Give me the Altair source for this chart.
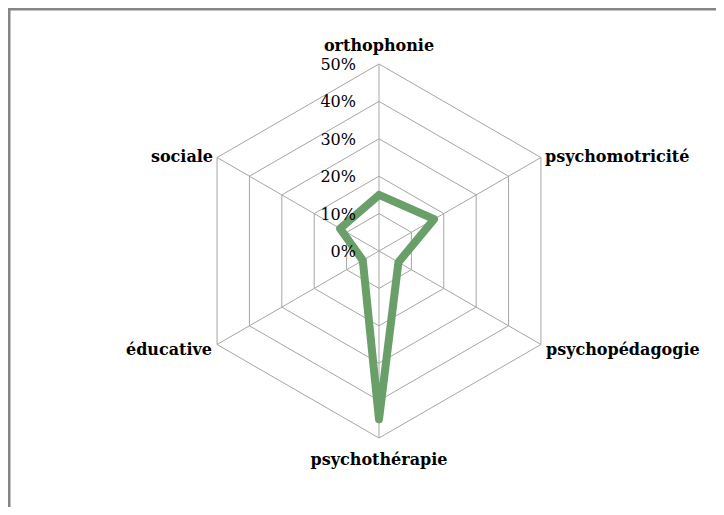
import altair as alt
import pandas as pd
import numpy as np

categories = ["orthophonie", "psychomotricité", "psychopédagogie",
              "psychothérapie", "éducative", "sociale"]
values = [15, 17, 6, 45, 5, 12]
ticks = [0, 10, 20, 30, 40, 50]
tick_labels = ["0%", "10%", "20%", "30%", "40%", "50%"]
max_r = 50

n = len(categories)
angles = [np.pi / 2 - 2 * np.pi * i / n for i in range(n)]

# layout (pixels of the view)
W, H = 708, 499
cx, cy = 371, 243
k = 187 / max_r
xdom = [-cx / k, (W - cx) / k]
ydom = [-(H - cy) / k, cy / k]

series = pd.DataFrame([
    {"order": i, "cat": categories[i % n],
     "x": values[i % n] * np.cos(angles[i % n]),
     "y": values[i % n] * np.sin(angles[i % n])}
    for i in range(n + 1)
])

rings = pd.DataFrame([
    {"ring": t, "order": i,
     "x": t * np.cos(angles[i % n]), "y": t * np.sin(angles[i % n])}
    for t in ticks if t > 0 for i in range(n + 1)
])

spokes = pd.DataFrame([
    {"x": 0.0, "y": 0.0,
     "x2": max_r * np.cos(a), "y2": max_r * np.sin(a)}
    for a in angles
])

labels = pd.DataFrame([
    {"cat": c, "x": max_r * np.cos(a), "y": max_r * np.sin(a), "pos": i}
    for i, (c, a) in enumerate(zip(categories, angles))
])

tick_df = pd.DataFrame({"x": [0.0] * len(ticks), "y": ticks, "label": tick_labels})

X = lambda f="x": alt.X(f"{f}:Q", scale=alt.Scale(domain=xdom, nice=False, zero=False), axis=None)
Y = lambda f="y": alt.Y(f"{f}:Q", scale=alt.Scale(domain=ydom, nice=False, zero=False), axis=None)

grid_color = "#a6a6a6"

ring_layer = alt.Chart(rings).mark_line(color=grid_color, strokeWidth=1).encode(
    x=X(), y=Y(), order="order:Q", detail="ring:N")

spoke_layer = alt.Chart(spokes).mark_rule(color=grid_color, strokeWidth=1).encode(
    x=X(), y=Y(), x2="x2:Q", y2="y2:Q")

line_layer = alt.Chart(series).mark_line(
    color="#6a9f6a", strokeWidth=8, strokeJoin="round", strokeCap="round").encode(
    x=X(), y=Y(), order="order:Q")

font = "DejaVu Serif"

def lab(filter_expr, align, dx, dy):
    return alt.Chart(labels).transform_filter(filter_expr).mark_text(
        font=font, fontSize=16, fontWeight="bold", color="black",
        align=align, baseline="alphabetic", dx=dx, dy=dy).encode(
        x=X(), y=Y(), text="cat:N")

top_lab = lab("datum.pos == 0", "center", 0, -13)
bot_lab = lab("datum.pos == 3", "center", 0, 27)
ur_lab = lab("datum.pos == 1", "left", 4, 4.5)
lr_lab = lab("datum.pos == 2", "left", 5, 10)
ll_lab = lab("datum.pos == 4", "right", -5, 10)
ul_lab = lab("datum.pos == 5", "right", -4, 4.5)

tick_layer = alt.Chart(tick_df).mark_text(
    font=font, fontSize=16, color="black", align="right",
    baseline="alphabetic", dx=-23, dy=6).encode(
    x=X(), y=Y(), text="label:N")

frame_color = "#858585"
frame_left = alt.Chart(alt.Data(values=[{}])).mark_rule(
    color=frame_color, strokeWidth=2.6).encode(
    x=alt.value(1.2), y=alt.value(0), y2=alt.value(H))
frame_top = alt.Chart(alt.Data(values=[{}])).mark_rule(
    color=frame_color, strokeWidth=2.6).encode(
    x=alt.value(0), x2=alt.value(W), y=alt.value(1.2))

chart = alt.layer(
    ring_layer, spoke_layer, line_layer,
    top_lab, bot_lab, ur_lab, lr_lab, ll_lab, ul_lab,
    tick_layer, frame_left, frame_top
).properties(
    width=W, height=H, padding=0, autosize="none", background="white"
).configure_view(stroke=None)

chart.save("out.html", embed_options={"renderer": "svg", "actions": False})
